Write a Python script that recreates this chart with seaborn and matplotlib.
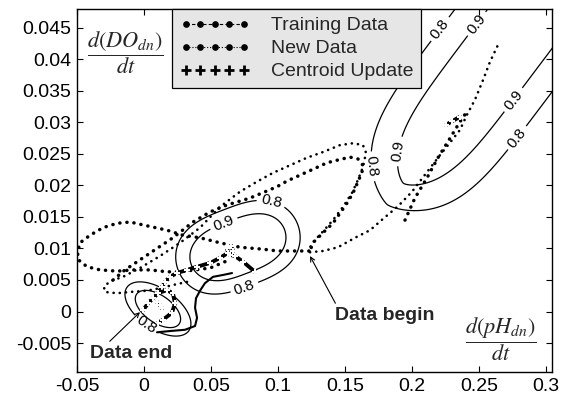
import numpy as np
import pandas as pd
import matplotlib
matplotlib.use("Agg")
import matplotlib.pyplot as plt
from matplotlib.lines import Line2D
import seaborn as sns

# ---------------- trajectories: x = d(pH_dn)/dt, y = d(DO_dn)/dt ----------------
# training data
train_a_x = [0.0604, 0.0493, 0.0381, 0.0269, 0.0172, 0.0045, -0.0082, -0.0201, -0.0328, -0.0425,
             -0.0490, -0.0496, -0.0478, -0.0403, -0.0306, -0.0201, -0.0104, 0.0022, 0.0172, 0.0291,
             0.0418, 0.0567, 0.0716, 0.0881, 0.1000, 0.1142, 0.1239]
train_a_y = [0.0079, 0.0069, 0.0066, 0.0063, 0.0063, 0.0066, 0.0066, 0.0064, 0.0066, 0.0071,
             0.0082, 0.0094, 0.0109, 0.0121, 0.0133, 0.0140, 0.0142, 0.0136, 0.0129, 0.0121,
             0.0117, 0.0109, 0.0102, 0.0099, 0.0096, 0.0096, 0.0096]

train_b_x = [-0.0231, -0.0142, -0.0030, 0.0082, 0.0216, 0.0366, 0.0493, 0.0619, 0.0791, 0.0993,
             0.1067, 0.1254, 0.1366, 0.1440, 0.1537, 0.1597, 0.1634, 0.1627, 0.1597, 0.1560,
             0.1515, 0.1463, 0.1410, 0.1336, 0.1261, 0.1239]
train_b_y = [0.0050, 0.0066, 0.0082, 0.0098, 0.0117, 0.0142, 0.0158, 0.0169, 0.0180, 0.0198,
             0.0207, 0.0225, 0.0236, 0.0240, 0.0245, 0.0242, 0.0232, 0.0221, 0.0206, 0.0188,
             0.0172, 0.0156, 0.0140, 0.0125, 0.0109, 0.0096]

train_c_x = [0.1948, 0.2022, 0.2112, 0.2194, 0.2284, 0.2358, 0.2410]
train_c_y = [0.0145, 0.0180, 0.0212, 0.0244, 0.0275, 0.0301, 0.0317]

# new data
new_a_x = [0.0321, 0.0216, 0.0119, 0.0022, -0.0104, -0.0201, -0.0291, -0.0299, -0.0254, -0.0157,
           -0.0030, 0.0119, 0.0269, 0.0418, 0.0567, 0.0716, 0.0843, 0.0963, 0.1090, 0.1216,
           0.1336, 0.1463, 0.1560, 0.1634, 0.1657, 0.1634, 0.1597, 0.1552, 0.1485, 0.1410,
           0.1336, 0.1261, 0.1224]
new_a_y = [0.0047, 0.0042, 0.0037, 0.0033, 0.0031, 0.0029, 0.0031, 0.0039, 0.0048, 0.0055,
           0.0069, 0.0088, 0.0109, 0.0133, 0.0166, 0.0190, 0.0206, 0.0220, 0.0232, 0.0244,
           0.0253, 0.0264, 0.0267, 0.0264, 0.0252, 0.0229, 0.0209, 0.0188, 0.0166, 0.0145,
           0.0127, 0.0110, 0.0096]

new_b_x = [0.1239, 0.1336, 0.1448, 0.1575, 0.1687, 0.1784, 0.1896, 0.2000, 0.2097, 0.2209,
           0.2299, 0.2358, 0.2410, 0.2470, 0.2530, 0.2582, 0.2642]
new_b_y = [0.0094, 0.0096, 0.0102, 0.0117, 0.0129, 0.0147, 0.0167, 0.0190, 0.0217, 0.0248,
           0.0272, 0.0288, 0.0312, 0.0336, 0.0367, 0.0396, 0.0423]

new_c_x = [0.0097, 0.0194, 0.0306, 0.0381, 0.0396, 0.0381, 0.0388, 0.0418, 0.0455, 0.0515, 0.0590, 0.0657]
new_c_y = [-0.0033, -0.0031, -0.0029, -0.0023, -0.0010, 0.0006, 0.0021, 0.0033, 0.0045, 0.0055, 0.0058, 0.0061]

# centroid updates
cent_a_x = [-0.0007, 0.0030, 0.0067, 0.0104, 0.0134, 0.0157, 0.0194, 0.0246, 0.0321, 0.0396,
            0.0493, 0.0567, 0.0627, 0.0620, 0.0650, 0.0665, 0.0640, 0.0679, 0.0739, 0.0828]
cent_a_y = [0.0002, 0.0013, 0.0021, 0.0029, 0.0039, 0.0047, 0.0055, 0.0061, 0.0066, 0.0071,
            0.0077, 0.0085, 0.0093, 0.0100, 0.0104, 0.0096, 0.0090, 0.0088, 0.0079, 0.0063]
cent_b_x = [0.0104, 0.0172, 0.0216, 0.0231, 0.0209, 0.0142, 0.0104]
cent_b_y = [0.0029, 0.0034, 0.0029, 0.0013, -0.0002, -0.0013, -0.0018]
cent_c_x = [0.0097, 0.0119, 0.0134]
cent_c_y = [0.0015, 0.0010, 0.0005]
cent_d_x = [0.2254, 0.2300, 0.2358]
cent_d_y = [0.0296, 0.0302, 0.0309]

# ---------------- cluster membership fields ----------------
cluster_cx = [0.0104, 0.0701, 0.2775]
cluster_cy = [0.0004, 0.0102, 0.0440]
cluster_angle = [-35.0, 21.0, 53.0]      # orientation of the major axis
cluster_major = [80.0, 105.5, 279.0]     # spread along the major axis
cluster_minor = [42.0, 84.7, 183.0]      # spread along the minor axis
cluster_pmaj = [2.0, 3.0, 5.6]
cluster_pmin = [2.0, 2.0, 1.42]
levels = [0.8, 0.9]

# label anchors for the membership contours
label_pos = [
    [(-0.0007, -0.0029)],
    [(0.0948, 0.0174), (0.0619, 0.0126), (0.0739, 0.0045)],
    [(0.1611, 0.0228), (0.1850, 0.0256), (0.2187, 0.0452), (0.2492, 0.0455),
     (0.2768, 0.0334), (0.2805, 0.0272)],
]

x_ticks = [-0.05, 0, 0.05, 0.1, 0.15, 0.2, 0.25, 0.3]
x_tick_labels = ["-0.05", "0", "0.05", "0.1", "0.15", "0.2", "0.25", "0.3"]
y_ticks = [-0.005, 0, 0.005, 0.01, 0.015, 0.02, 0.025, 0.03, 0.035, 0.04, 0.045]
y_tick_labels = ["-0.005", "0", "0.005", "0.01", "0.015", "0.02", "0.025", "0.03", "0.035", "0.04", "0.045"]

sns.set_style("ticks")
plt.rcParams["font.family"] = ["Liberation Sans", "DejaVu Sans"]
plt.rcParams["mathtext.fontset"] = "stix"

fig = plt.figure(figsize=(5.76, 3.96), dpi=100)
ax = fig.add_axes([0.1337, 0.0606, 0.8246, 0.9167])

# scale factors so the field shapes are defined in screen-like units
SX, SY = 1340.0, 6300.0


def membership(xx, yy, cx, cy, ang, a, b, pa, pb):
    dx = (xx - cx) * SX
    dy = (yy - cy) * SY
    t = np.deg2rad(ang)
    u = dx * np.cos(t) + dy * np.sin(t)
    v = -dx * np.sin(t) + dy * np.cos(t)
    return np.exp(-np.abs(u / a) ** pa - np.abs(v / b) ** pb)


gx = np.linspace(-0.06, 0.32, 700)
gy = np.linspace(-0.012, 0.052, 600)
GX, GY = np.meshgrid(gx, gy)
for i in range(3):
    Z = membership(GX, GY, cluster_cx[i], cluster_cy[i], cluster_angle[i],
                   cluster_major[i], cluster_minor[i], cluster_pmaj[i], cluster_pmin[i])
    cs = ax.contour(GX, GY, Z, levels=levels, colors="black", linewidths=0.9)
    ax.clabel(cs, fmt="%.1f", manual=label_pos[i], inline=True, fontsize=11, inline_spacing=3)


def path(xs, ys, **kw):
    df = pd.DataFrame({"x": xs, "y": ys})
    sns.lineplot(data=df, x="x", y="y", sort=False, estimator=None, ax=ax,
                 color="black", **kw)


dot_train = dict(linewidth=2.5, linestyle=(0, (0.05, 2.0)), dash_capstyle="round")
dot_new = dict(linewidth=1.9, linestyle=(0, (0.05, 2.3)), dash_capstyle="round")

path(train_a_x, train_a_y, **dot_train)
path(train_b_x, train_b_y, **dot_train)
path(train_c_x, train_c_y, **dot_train)
path(new_a_x, new_a_y, **dot_new)
path(new_b_x, new_b_y, **dot_new)
path(new_c_x, new_c_y, linewidth=1.5)

cent_kw = dict(linewidth=2.8, marker="+", markersize=5, markeredgewidth=1.5, solid_capstyle="round")
path(cent_a_x, cent_a_y, **cent_kw)
path(cent_b_x, cent_b_y, **cent_kw)
path(cent_c_x, cent_c_y, **cent_kw)
path(cent_d_x, cent_d_y, **cent_kw)

ax.set_xlim(-0.05, 0.3045)
ax.set_ylim(-0.0096, 0.048)
ax.set_xticks(x_ticks)
ax.set_xticklabels(x_tick_labels)
ax.set_yticks(y_ticks)
ax.set_yticklabels(y_tick_labels)
ax.set_xlabel("")
ax.set_ylabel("")
ax.tick_params(direction="in", length=4, width=0.8, top=True, right=True,
               labelsize=14, pad=4, colors="black")
for s in ax.spines.values():
    s.set_linewidth(1.0)
    s.set_color("black")

# axis quantities drawn as fractions inside the frame
ax.text(0.101, 0.881, r"$\dfrac{d\left(DO_{dn}\right)}{dt}$", transform=ax.transAxes,
        ha="center", va="center", fontsize=16)
ax.text(0.893, 0.091, r"$\dfrac{d\left(pH_{dn}\right)}{dt}$", transform=ax.transAxes,
        ha="center", va="center", fontsize=16)

arrow = dict(arrowstyle="->", color="black", lw=0.8, mutation_scale=8, shrinkA=0, shrinkB=0)
ax.annotate("Data begin", xy=(0.1239, 0.0088), xytext=(0.1798, -0.00056),
            ha="center", va="center", fontsize=14, fontweight="bold",
            arrowprops=dict(relpos=(0.02, 1.0), **arrow))
ax.annotate("Data end", xy=(-0.0030, -0.0001), xytext=(-0.0097, -0.0066),
            ha="center", va="center", fontsize=14, fontweight="bold",
            arrowprops=dict(relpos=(0.2, 1.0), **arrow))

handles = [
    Line2D([], [], color="black", linestyle=(0, (3, 2)), linewidth=0.8, marker="o", markersize=3.8),
    Line2D([], [], color="black", linestyle=":", linewidth=0.8, marker="o", markersize=3.8),
    Line2D([], [], color="black", linestyle="none", marker="+", markersize=6.5, markeredgewidth=2),
]
leg = ax.legend(handles, ["Training Data", "New Data", "Centroid Update"],
                loc="upper left", bbox_to_anchor=(0.2, 1.0), borderaxespad=0,
                numpoints=5, handlelength=3.6, handletextpad=1.1, borderpad=0.4,
                labelspacing=0.28, fontsize=14, fancybox=False, framealpha=1,
                facecolor="#e6e6e6", edgecolor="black")
leg.get_frame().set_linewidth(0.9)

fig.savefig("out.png", dpi=100)
